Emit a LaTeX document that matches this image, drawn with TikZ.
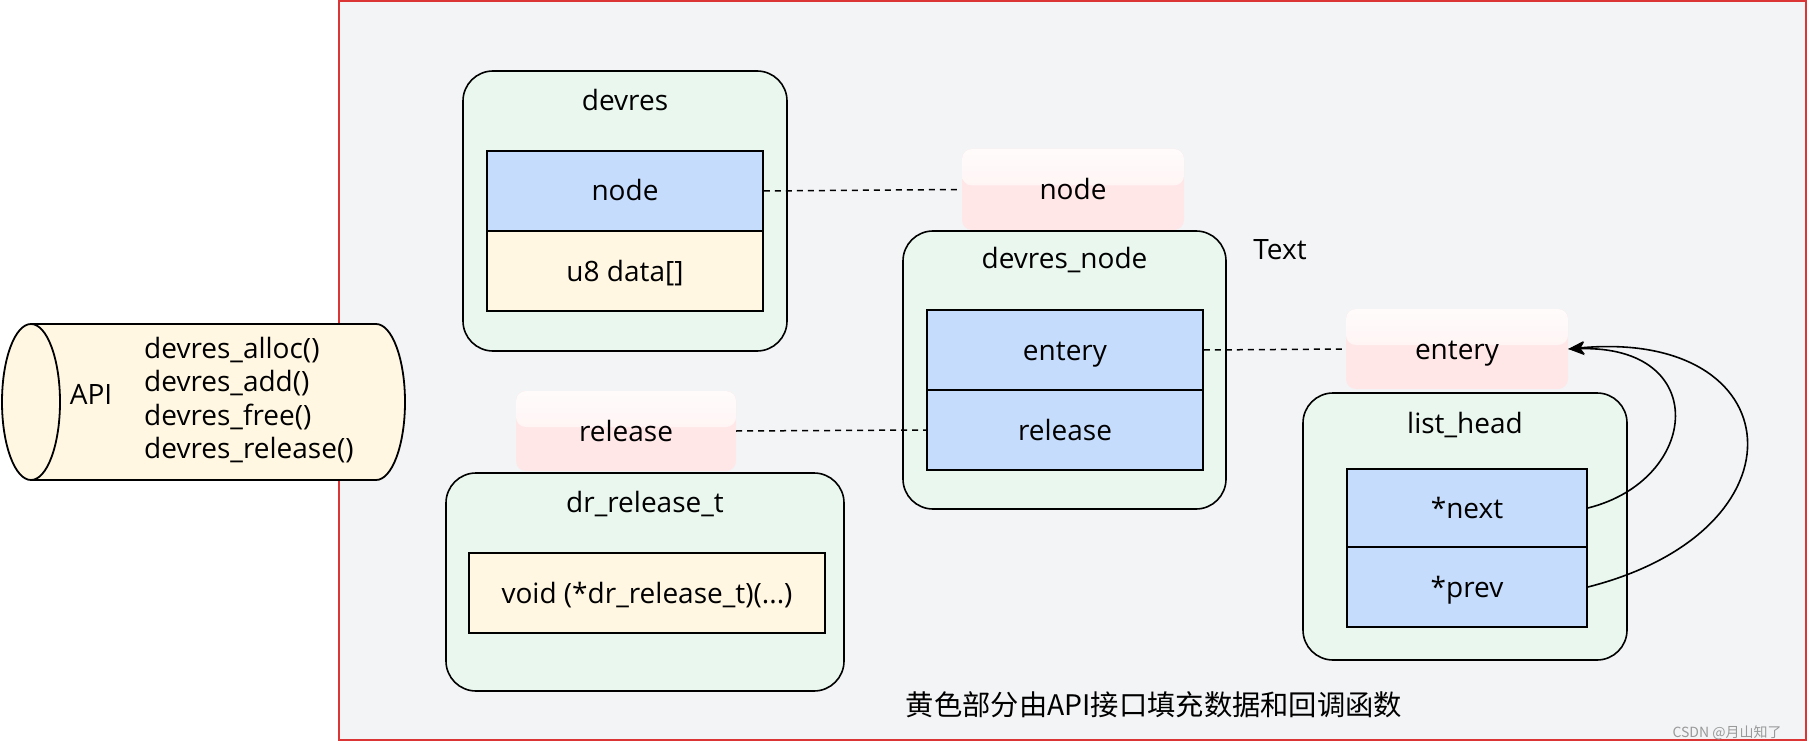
\documentclass[tikz,border=0pt]{standalone}
\usepackage{fontspec}
\setmainfont{Open Sans}
\newfontfamily\cjk{Noto Sans CJK SC}
\usetikzlibrary{arrows.meta,calc}
\definecolor{bgc}{HTML}{F3F4F6}
\definecolor{framec}{HTML}{DC3535}
\definecolor{greenc}{HTML}{E9F7EF}
\definecolor{bluec}{HTML}{C6DCFC}
\definecolor{yellowc}{HTML}{FFF7E2}
\definecolor{pinkc}{HTML}{FFE7E7}
\newcommand\dfont{\fontsize{28}{33.4}\selectfont}
\tikzset{
  fixtext/.style={text height=20pt, text depth=0pt},
  outerbox/.style={draw, line width=1.6pt, fill=greenc, rounded corners=30pt, inner sep=0pt},
  fieldbox/.style={draw, line width=1.8pt, fill=#1, inner sep=0pt, font=\dfont, fixtext},
  titlelbl/.style={font=\dfont, inner sep=0pt, fixtext},
  pinkbox/.style={fill=pinkc, rounded corners=10pt, inner sep=0pt, font=\dfont, fixtext,
    path picture={\fill[top color=pinkc!15!white, bottom color=pinkc!75!white]
      (path picture bounding box.north west) rectangle
      ($(path picture bounding box.north east)!0.45!(path picture bounding box.south east)$);}},
  dashlink/.style={dashed, dash pattern=on 6pt off 5pt, line width=1.5pt},
  ptrlink/.style={line width=1.6pt, -{Stealth[length=16pt,width=13pt,inset=4pt]}},
}
\begin{document}
\begin{tikzpicture}[x=1pt, y=-1pt]
\useasboundingbox (0,0) rectangle (1810,754);
% frame
\draw[fill=bgc, draw=framec, line width=1.6pt] (339,1) rectangle (1806,740);

% API cylinder
\fill[yellowc] (31,324) -- (376,324) arc[start angle=-90, end angle=90, x radius=29, y radius=78] -- (31,480) -- cycle;
\draw[line width=1.8pt] (31,324) -- (376,324) arc[start angle=-90, end angle=90, x radius=29, y radius=78] -- (31,480);
\draw[line width=1.8pt, fill=yellowc] (31,402) ellipse [x radius=29, y radius=78];
\node[titlelbl] (apilbl) at (91,394) {API};
\node[font=\dfont, inner sep=0pt, anchor=west, align=left] (apifuncs) at (144,400) {devres\_alloc()\\devres\_add()\\devres\_free()\\devres\_release()};

% devres
\node[outerbox, minimum width=324pt, minimum height=280pt] (devres) at (625,211) {};
\node[titlelbl] (devrest) at (625,101) {devres};
\node[fieldbox=bluec, minimum width=276pt, minimum height=80pt] (dnode) at (625,191) {node};
\node[fieldbox=yellowc, minimum width=276pt, minimum height=80pt] (ddata) at (625,271) {u8 data[]};

% devres_node
\node[outerbox, minimum width=323pt, minimum height=278pt] (devresnode) at (1064.5,370) {};
\node[titlelbl] (devresnodet) at (1064.5,259) {devres\_node};
\node[fieldbox=bluec, minimum width=276pt, minimum height=80pt] (nentery) at (1065,350) {entery};
\node[fieldbox=bluec, minimum width=276pt, minimum height=80pt] (nrelease) at (1065,430) {release};
\node[pinkbox, minimum width=222pt, minimum height=81pt] (pnode) at (1073,189.5) {node};
\node[titlelbl] (textlbl) at (1280,249) {Text};

% list_head
\node[outerbox, minimum width=324pt, minimum height=267pt] (listhead) at (1465,526.5) {};
\node[titlelbl] (listheadt) at (1465,423) {list\_head};
\node[fieldbox=bluec, minimum width=240pt, minimum height=78pt] (lnext) at (1467,508) {*next};
\node[fieldbox=bluec, minimum width=240pt, minimum height=80pt] (lprev) at (1467,587) {*prev};
\node[pinkbox, minimum width=222pt, minimum height=80pt] (pentery) at (1457,349) {entery};

% dr_release_t
\node[outerbox, minimum width=398pt, minimum height=218pt] (drrel) at (645,582) {};
\node[titlelbl] (drrelt) at (645,502) {dr\_release\_t};
\node[fieldbox=yellowc, minimum width=356pt, minimum height=80pt] (drfunc) at (647,593) {void (*dr\_release\_t)(...)};
\node[pinkbox, minimum width=220pt, minimum height=80pt] (prelease) at (626,431) {release};

% dashed links
\draw[dashlink] (dnode.east) -- (pnode.west);
\draw[dashlink] (nentery.east) -- (pentery.west);
\draw[dashlink] (prelease.east) -- (nrelease.west);

% pointer curves
\draw[ptrlink] (lnext.east) .. controls (1700,480) and (1712,345) .. (pentery.east);
\draw[ptrlink] (lprev.east) .. controls (1812,530) and (1792,328) .. (pentery.east);

% caption
\node[font=\cjk\fontsize{28.3}{32}\selectfont, inner sep=0pt] (caption) at (1154,705) {黄色部分由API接口填充数据和回调函数};
\node[font=\cjk\fontsize{14}{16}\selectfont, text=black!40, inner sep=0pt] (wm) at (1727,733) {CSDN @月山知了};
\end{tikzpicture}
\end{document}
